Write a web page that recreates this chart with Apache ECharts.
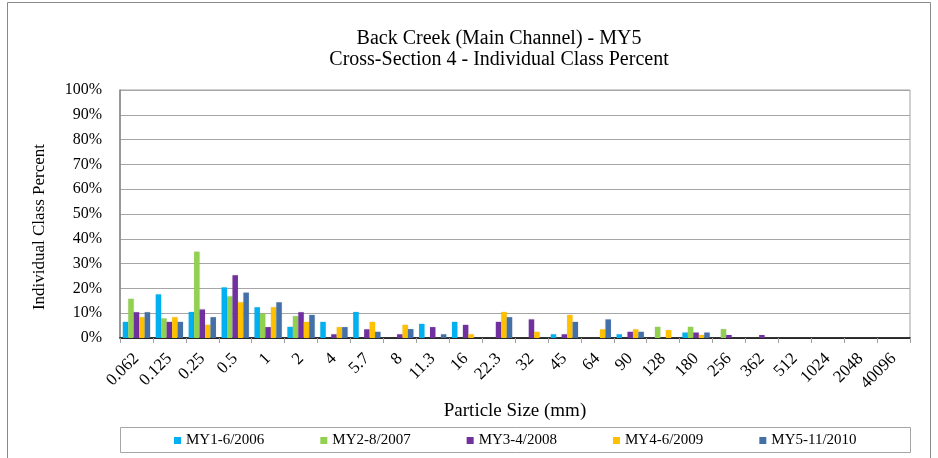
<!DOCTYPE html>
<html>
<head>
<meta charset="utf-8">
<script src="https://cdn.jsdelivr.net/npm/echarts@6/dist/echarts.min.js"></script>
<style>
  html, body { margin: 0; padding: 0; background: #fff; }
  #chart { width: 938px; height: 458px; }
</style>
</head>
<body>
<div id="chart"></div>
<script>
// Particle size classes (mm)
const sizeClasses = ['0.062', '0.125', '0.25', '0.5', '1', '2', '4', '5.7', '8', '11.3', '16', '22.3',
  '32', '45', '64', '90', '128', '180', '256', '362', '512', '1024', '2048', '40096'];

// Individual class percent by monitoring year
const my1 = [6.5, 17.6, 10.5, 20.4, 12.4, 4.5, 6.5, 10.5, 0, 5.7, 6.5, 0, 0, 1.5, 0, 1.5, 0, 2.2, 0, 0, 0, 0, 0, 0];
const my2 = [15.8, 7.9, 34.8, 16.8, 9.9, 8.8, 0, 0, 0, 0, 0, 0, 0, 0, 0, 0, 4.5, 4.5, 3.6, 0, 0, 0, 0, 0];
const my3 = [10.4, 6.5, 11.5, 25.3, 4.4, 10.4, 1.5, 3.5, 1.5, 4.4, 5.3, 6.5, 7.5, 1.5, 0, 2.5, 0, 2.2, 1.2, 1.2, 0, 0, 0, 0];
const my4 = [8.4, 8.4, 5.3, 14.4, 12.4, 6.5, 4.4, 6.5, 5.3, 0, 1.5, 10.5, 2.5, 9.3, 3.5, 3.5, 3.2, 1.2, 0, 0, 0, 0, 0, 0];
const my5 = [10.4, 6.5, 8.4, 18.3, 14.4, 9.3, 4.4, 2.5, 3.6, 1.5, 0, 8.4, 0, 6.5, 7.5, 2.5, 0, 2.2, 0, 0, 0, 0, 0, 0];

const seriesNames = ['MY1-6/2006', 'MY2-8/2007', 'MY3-4/2008', 'MY4-6/2009', 'MY5-11/2010'];
const seriesColors = ['#00B0F0', '#92D050', '#7030A0', '#FFC000', '#4470A8'];
const seriesData = [my1, my2, my3, my4, my5];

const yTicks = [0, 10, 20, 30, 40, 50, 60, 70, 80, 90, 100];

const FONT = '"Liberation Serif", "Times New Roman", serif';

const chart = echarts.init(document.getElementById('chart'), null, { renderer: 'canvas' });

chart.setOption({
  backgroundColor: '#ffffff',
  animation: false,
  textStyle: { fontFamily: FONT, color: '#000' },
  graphic: [
    // outer chart frame
    { type: 'rect', shape: { x: 7.5, y: 2.5, width: 923, height: 470 },
      style: { fill: 'none', stroke: '#8a8a8a', lineWidth: 1 }, z: 0 },
    // legend frame
    { type: 'rect', shape: { x: 120.5, y: 427.5, width: 790, height: 25 },
      style: { fill: 'none', stroke: '#a6a6a6', lineWidth: 1 }, z: 0 },
    // vertical axis title
    { type: 'text', x: 40, y: 227, rotation: Math.PI / 2,
      style: { text: 'Individual Class Percent', fontFamily: FONT, fontSize: 17, fill: '#000',
               textAlign: 'center', textVerticalAlign: 'middle' } }
  ],
  title: {
    text: 'Back Creek (Main Channel) - MY5\nCross-Section 4 - Individual Class Percent',
    left: 499, top: 28, textAlign: 'center', padding: 0,
    textStyle: { fontFamily: FONT, fontSize: 20, fontWeight: 'normal', color: '#000', lineHeight: 21 }
  },
  legend: {
    data: seriesNames,
    left: 174, top: 433, padding: 0,
    icon: 'rect', itemWidth: 7, itemHeight: 7, itemGap: 56,
    textStyle: { fontFamily: FONT, fontSize: 15, color: '#000' }
  },
  grid: {
    left: 120, right: 28, top: 90, bottom: 120,
    show: true, borderColor: '#a0a0a0', borderWidth: 1, backgroundColor: 'transparent'
  },
  xAxis: {
    type: 'category',
    data: sizeClasses,
    name: 'Particle Size (mm)',
    nameLocation: 'middle', nameGap: 64,
    nameTextStyle: { fontFamily: FONT, fontSize: 19, color: '#000' },
    axisLine: { lineStyle: { color: '#000', width: 1.5 } },
    axisTick: { show: true, length: 5, lineStyle: { color: '#a0a0a0' } },
    axisLabel: { interval: 0, rotate: 45, margin: 18, fontFamily: FONT, fontSize: 17, color: '#000' }
  },
  yAxis: {
    type: 'value',
    min: 0, max: 100, interval: 10,
    axisLine: { show: true, lineStyle: { color: '#868686', width: 1.5 } },
    axisTick: { show: false },
    splitLine: { lineStyle: { color: '#a6a6a6', width: 1.2 } },
    axisLabel: {
      margin: 18, fontFamily: FONT, fontSize: 16, color: '#000',
      formatter: v => (yTicks.includes(v) ? v + '%' : '')
    }
  },
  series: seriesData.map((d, i) => ({
    name: seriesNames[i],
    type: 'bar',
    data: d,
    barGap: '0%',
    barCategoryGap: '17%',
    itemStyle: { color: seriesColors[i], shadowColor: 'rgba(0,0,0,0.12)', shadowBlur: 2 }
  }))
});
</script>
</body>
</html>
